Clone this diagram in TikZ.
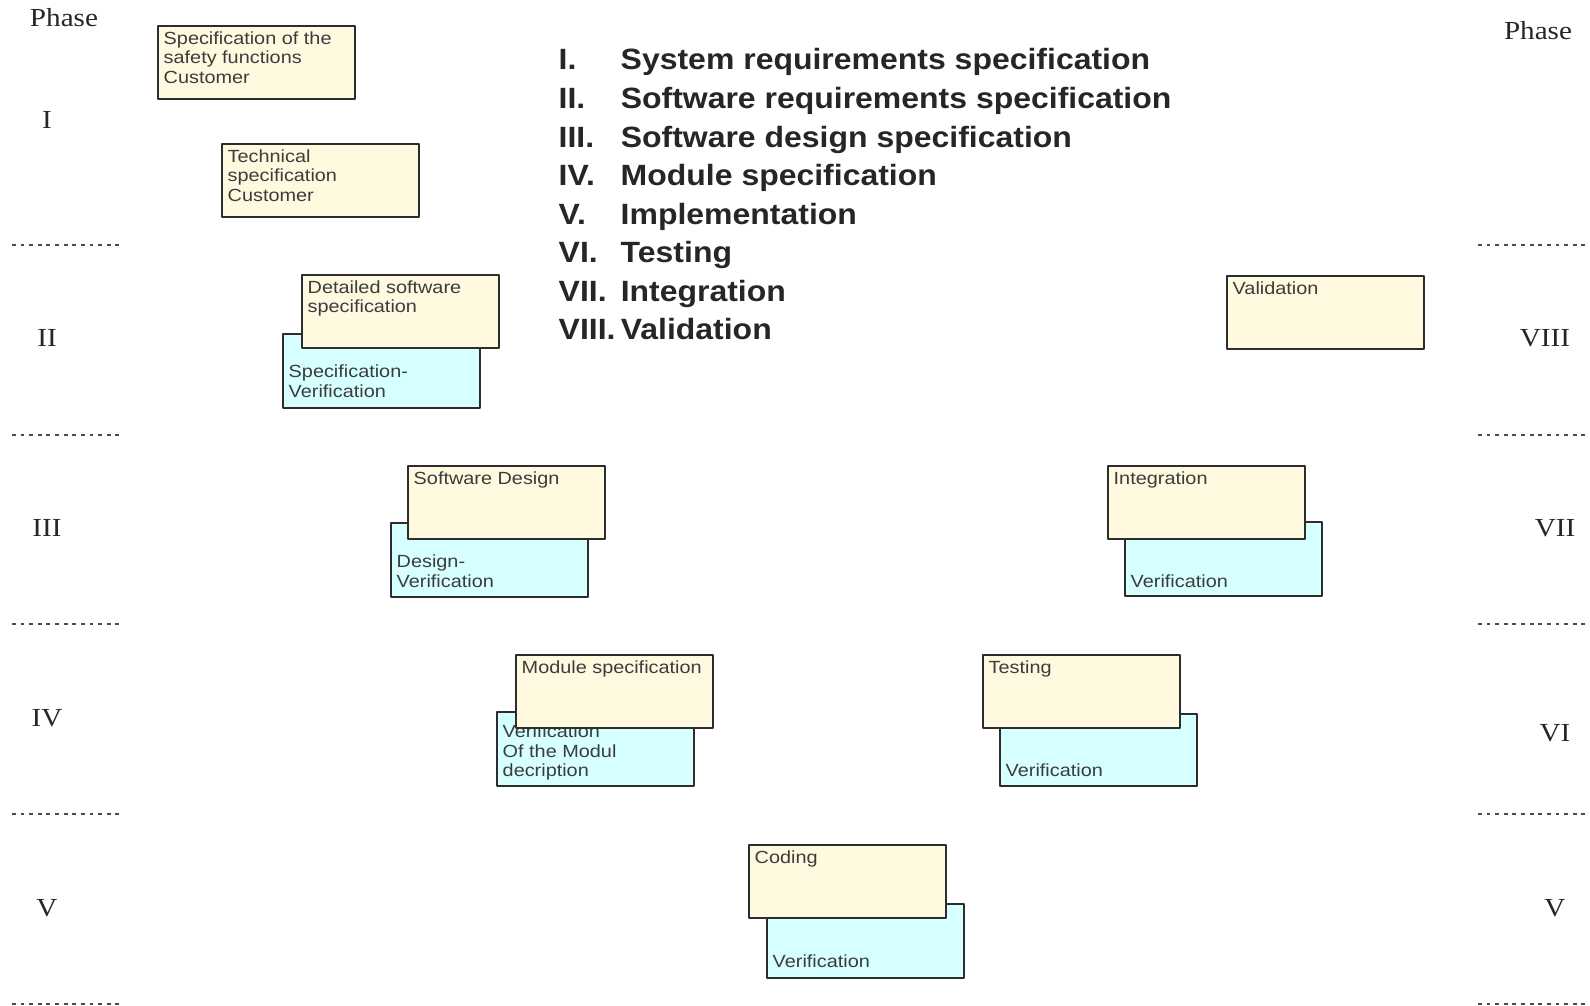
\documentclass[tikz,border=0pt]{standalone}
\usepackage{fontspec}
\newfontfamily\boxfont[FakeStretch=1.13]{Liberation Sans}
\newfontfamily\listfont[FakeStretch=1.09]{Liberation Sans}
\newfontfamily\phasefont[FakeStretch=1.12]{Liberation Serif}
\definecolor{spectan}{RGB}{255,249,224}
\definecolor{verifcyan}{RGB}{214,255,255}
\definecolor{boxline}{RGB}{45,45,45}
\definecolor{inkgray}{RGB}{60,60,60}
\begin{document}
\begin{tikzpicture}[x=0.01cm,y=-0.01cm,line join=round,
	specbox/.style={draw=boxline,fill=spectan,line width=.6pt,minimum width=1.97cm,minimum height=.73cm,anchor=north west,inner sep=0pt},
	verbox/.style={specbox,fill=verifcyan,minimum height=.74cm},
	toptext/.style={anchor=north west,inner sep=0pt,align=left,text=inkgray,font={\boxfont\fontsize{5pt}{5.55pt}\selectfont}},
	bottext/.style={toptext,anchor=south west},
	phase/.style={text=black!85,font={\phasefont\fontsize{7.4pt}{8pt}\selectfont}},
	sep/.style={dash pattern=on 1.1pt off 1.35pt,line width=.35pt,draw=black!70}]
	\useasboundingbox (0,0) rectangle (1590,1006);
	% phase columns
	\node[phase] (phasel) at (64,18) {Phase};
	\node[phase] (phaser) at (1538,31) {Phase};
	\node[phase] (l1) at (47,120) {I};
	\node[phase] (l2) at (47,338) {II};
	\node[phase] (l3) at (47,528) {III};
	\node[phase] (l4) at (47,718) {IV};
	\node[phase] (l5) at (47,908) {V};
	\node[phase] (r8) at (1545,338) {VIII};
	\node[phase] (r7) at (1555,528) {VII};
	\node[phase] (r6) at (1555,733) {VI};
	\node[phase] (r5) at (1555,908) {V};
	\draw[sep] (12,245) -- (121,245) (12,435) -- (121,435) (12,624) -- (121,624) (12,814) -- (121,814) (12,1004) -- (121,1004);
	\draw[sep] (1478,245) -- (1590,245) (1478,435) -- (1590,435) (1478,624) -- (1590,624) (1478,814) -- (1590,814) (1478,1004) -- (1590,1004);
	% legend
	\node[anchor=base west,inner sep=0pt,text=black!85,font={\listfont\bfseries\fontsize{8.34pt}{10.95pt}\selectfont}] (phases) at (558,70) {%
		\begin{tabular}[t]{@{}p{0.62cm}@{}l@{}}
		I. & System requirements specification\\
		II. & Software requirements specification\\
		III. & Software design specification\\
		IV. & Module specification\\
		V. & Implementation\\
		VI. & Testing\\
		VII. & Integration\\
		VIII. & Validation
		\end{tabular}};
	% I
	\node[specbox] (safety) at (157,25) {};
	\node[toptext] (safetyt) at ([shift={(6,6)}]safety.north west) {Specification of the\\safety functions\\Customer};
	\node[specbox] (techspec) at (221,143) {};
	\node[toptext] (techspect) at ([shift={(6,6)}]techspec.north west) {Technical\\specification\\Customer};
	% II
	\node[verbox] (specver) at (282,333) {};
	\node[bottext] (specvert) at ([shift={(6,-11)}]specver.south west) {Specification-\\Verification};
	\node[specbox] (detspec) at (301,274) {};
	\node[toptext] (detspect) at ([shift={(6,6)}]detspec.north west) {Detailed software\\specification};
	% III
	\node[verbox] (desver) at (390,522) {};
	\node[bottext] (desvert) at ([shift={(6,-10)}]desver.south west) {Design-\\Verification};
	\node[specbox] (swdesign) at (407,465) {};
	\node[toptext] (swdesignt) at ([shift={(6,6)}]swdesign.north west) {Software Design};
	% IV
	\node[verbox] (modver) at (496,711) {};
	\node[bottext] (modvert) at ([shift={(6,-6)}]modver.south west) {Verification\\Of the Modul\\decription};
	\node[specbox] (modspec) at (515,654) {};
	\node[toptext] (modspect) at ([shift={(6,6)}]modspec.north west) {Module specification};
	% V
	\node[verbox] (codver) at (766,903) {};
	\node[bottext] (codvert) at ([shift={(6,-11)}]codver.south west) {Verification};
	\node[specbox] (coding) at (748,844) {};
	\node[toptext] (codingt) at ([shift={(6,6)}]coding.north west) {Coding};
	% VI
	\node[verbox,minimum height=.72cm] (testver) at (999,713) {};
	\node[bottext] (testvert) at ([shift={(6,-10)}]testver.south west) {Verification};
	\node[specbox] (testing) at (982,654) {};
	\node[toptext] (testingt) at ([shift={(6,6)}]testing.north west) {Testing};
	% VII
	\node[verbox] (intver) at (1124,521) {};
	\node[bottext] (intvert) at ([shift={(6,-9)}]intver.south west) {Verification};
	\node[specbox] (integ) at (1107,465) {};
	\node[toptext] (integt) at ([shift={(6,6)}]integ.north west) {Integration};
	% VIII
	\node[specbox] (valid) at (1226,275) {};
	\node[toptext] (validt) at ([shift={(6,6)}]valid.north west) {Validation};
\end{tikzpicture}
\end{document}
